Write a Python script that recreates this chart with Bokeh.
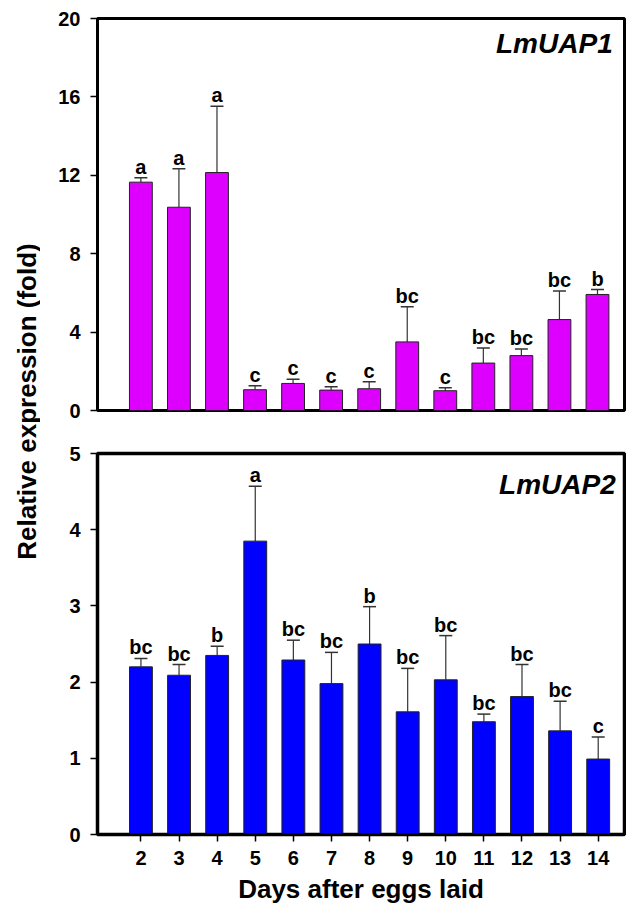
import math
from bokeh.plotting import figure
from bokeh.models import ColumnDataSource, Whisker, TeeHead, Range1d, FixedTicker
from bokeh.layouts import row, column
from bokeh.core.properties import value
from bokeh.embed import file_html
from bokeh.resources import INLINE

days = [2, 3, 4, 5, 6, 7, 8, 9, 10, 11, 12, 13, 14]
uap1_mean = [11.65, 10.37, 12.14, 1.06, 1.38, 1.04, 1.11, 3.50, 1.01, 2.42, 2.80, 4.64, 5.92]
uap1_err = [0.23, 1.96, 3.38, 0.20, 0.22, 0.17, 0.36, 1.79, 0.15, 0.77, 0.34, 1.46, 0.25]
uap1_letters = ["a", "a", "a", "c", "c", "c", "c", "bc", "c", "bc", "bc", "bc", "b"]
uap2_mean = [2.20, 2.09, 2.35, 3.85, 2.29, 1.98, 2.50, 1.61, 2.03, 1.48, 1.81, 1.36, 0.99]
uap2_err = [0.11, 0.14, 0.12, 0.72, 0.26, 0.41, 0.49, 0.57, 0.58, 0.10, 0.42, 0.39, 0.29]
uap2_letters = ["bc", "bc", "b", "a", "bc", "bc", "b", "bc", "bc", "bc", "bc", "bc", "c"]
uap1_ticks = [0, 4, 8, 12, 16, 20]
uap2_ticks = [0, 1, 2, 3, 4, 5]

FONT = "Liberation Sans"
TOTAL_H = 907
LAB_W = 40


def style_panel(p, ticks):
    p.grid.visible = False
    p.outline_line_color = "black"
    p.outline_line_width = 3
    p.yaxis.ticker = FixedTicker(ticks=ticks)
    p.yaxis.axis_line_width = 2
    p.yaxis.axis_line_color = "black"
    p.yaxis.major_tick_line_width = 1.5
    p.yaxis.major_tick_line_color = "black"
    p.yaxis.major_tick_out = 7
    p.yaxis.major_tick_in = 0
    p.yaxis.minor_tick_line_color = None
    p.yaxis.major_label_text_font = FONT
    p.yaxis.major_label_text_font_style = "bold"
    p.yaxis.major_label_text_font_size = "20px"
    p.yaxis.major_label_text_color = "black"
    p.yaxis.major_label_standoff = 10


def panel(mean, err, letters, color, xr, ymax, ticks, gene, gene_x, gene_y, **kw):
    p = figure(x_range=Range1d(*xr), y_range=Range1d(0, ymax),
               output_backend="svg", toolbar_location=None,
               background_fill_color="white", border_fill_color="white", **kw)
    style_panel(p, ticks)
    upper = [m + e for m, e in zip(mean, err)]
    src = ColumnDataSource(dict(x=days, top=mean, upper=upper, letters=letters))
    p.add_layout(Whisker(source=src, base="x", lower="top", upper="upper",
                         dimension="height", line_color="#333333", line_width=1.2,
                         upper_head=TeeHead(size=13, line_color="#333333", line_width=1.5),
                         lower_head=None))
    p.vbar(x="x", top="top", width=0.6, source=src, fill_color=color,
           line_color="#222222", line_width=1)
    p.text(x="x", y="upper", text="letters", source=src, text_align="center",
           text_baseline="bottom", y_offset=0, text_font=value(FONT),
           text_font_style="bold", text_font_size="20px", text_color="black")
    gsrc = ColumnDataSource(dict(x=[gene_x], y=[gene_y], t=[gene]))
    p.text(x="x", y="y", text="t", source=gsrc, text_align="right",
           text_baseline="middle", text_font=value(FONT),
           text_font_style="bold italic", text_font_size="28px", text_color="black")
    return p


top = panel(uap1_mean, uap1_err, uap1_letters, "#DD00FF", (0.86, 14.71), 20, uap1_ticks,
            "LmUAP1", 14.4, 18.72,
            width=586, height=432, min_border_left=97 - LAB_W, min_border_right=2,
            min_border_top=18, min_border_bottom=22)
top.xaxis.visible = False

bottom = panel(uap2_mean, uap2_err, uap2_letters, "#0000FF", (0.86, 14.69), 5, uap2_ticks,
               "LmUAP2", 14.46, 4.59,
               width=586, height=TOTAL_H - 432, min_border_left=94 - LAB_W, min_border_right=2,
               min_border_top=21, min_border_bottom=73)
bottom.outline_line_width = 3.5
bottom.xaxis.ticker = FixedTicker(ticks=days)
bottom.xaxis.axis_line_width = 2
bottom.xaxis.axis_line_color = "black"
bottom.xaxis.major_tick_line_width = 1.5
bottom.xaxis.major_tick_line_color = "black"
bottom.xaxis.major_tick_out = 7
bottom.xaxis.major_tick_in = 0
bottom.xaxis.minor_tick_line_color = None
bottom.xaxis.major_label_text_font = FONT
bottom.xaxis.major_label_text_font_style = "bold"
bottom.xaxis.major_label_text_font_size = "20px"
bottom.xaxis.major_label_text_color = "black"
bottom.xaxis.major_label_standoff = 9
bottom.xaxis.axis_label = "Days after eggs laid"
bottom.xaxis.axis_label_text_font = FONT
bottom.xaxis.axis_label_text_font_style = "bold"
bottom.xaxis.axis_label_text_font_size = "26px"
bottom.xaxis.axis_label_text_color = "black"
bottom.xaxis.axis_label_standoff = 6

lab = figure(width=LAB_W, height=TOTAL_H, x_range=Range1d(0, LAB_W), y_range=Range1d(0, TOTAL_H),
             x_axis_type=None, y_axis_type=None, output_backend="svg",
             toolbar_location=None, min_border=0, outline_line_color=None)
lab.grid.visible = False
lsrc = ColumnDataSource(dict(x=[26], y=[TOTAL_H - 401], t=["Relative expression (fold)"]))
lab.text(x="x", y="y", text="t", source=lsrc, angle=math.pi / 2, text_align="center",
         text_baseline="middle", text_font=value(FONT), text_font_style="bold",
         text_font_size="26px", text_color="black")

layout = row(lab, column(top, bottom))
open("out.html", "w").write(file_html(layout, INLINE))
